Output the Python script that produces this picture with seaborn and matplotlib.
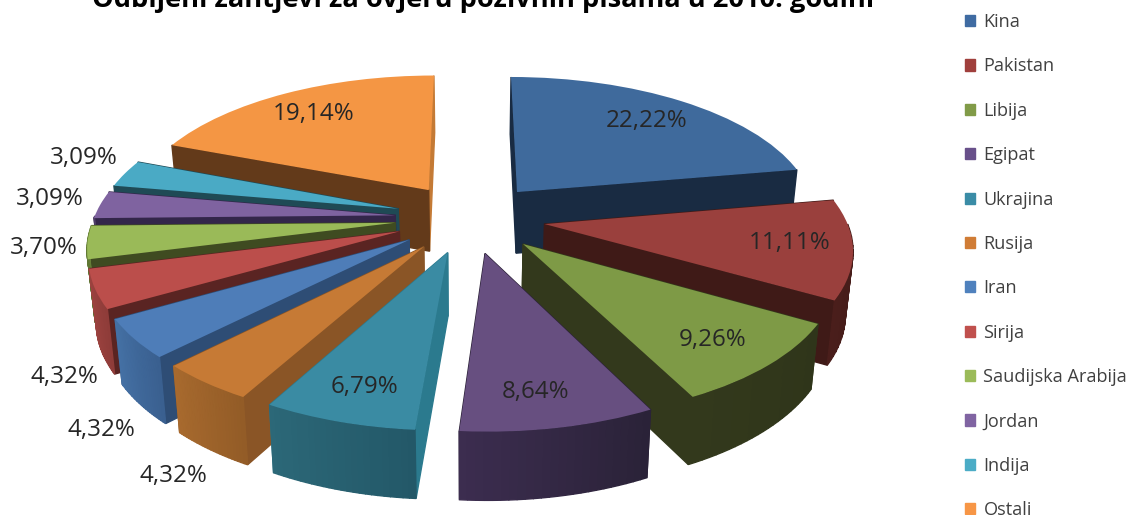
"""
Exploded 3D-look pie of refused visa-letter requests, drawn with ax.pie and a perspective transform.
"""
import numpy as np
import matplotlib
matplotlib.use('Agg')
import matplotlib.pyplot as plt
import matplotlib.colors as mcolors
import matplotlib.transforms as mtransforms
import seaborn as sns

TITLE = 'Odbijeni zahtjevi za ovjeru pozivnih pisama u 2010. godini'
COUNTRIES = ['Kina', 'Pakistan', 'Libija', 'Egipat', 'Ukrajina', 'Rusija',
             'Iran', 'Sirija', 'Saudijska Arabija', 'Jordan', 'Indija', 'Ostali']
SHARES = [22.22, 11.11, 9.26, 8.64, 6.79, 4.32, 4.32, 4.32, 3.70, 3.09, 3.09, 19.14]

TOP_COLORS = ['#3f6a9c', '#9a403d', '#7e9a46', '#674f80', '#3a8ba3', '#c67a35',
              '#4e7db8', '#bb4e4b', '#9aba58', '#7f63a0', '#4aaac5', '#f49644']
LEGEND_COLORS = ['#3f6ba2', '#a03f3c', '#819b48', '#68508a', '#3a8ca6', '#d07c35',
                 '#4f81bd', '#c0504d', '#9bbb59', '#8064a2', '#4bacc6', '#f79646']
RADIAL1_COLORS = ['#192b42', '#3f1a17', '#33391c', '#2d2339', '#2b7a8e', '#8a5526',
                  '#2e4d75', '#5a2422', '#3f4b21', '#33264a', '#1f4a55', '#c47a35']
RADIAL2_COLORS = ['#192b42', '#3f1a17', '#33391c', '#2d2339', '#2b7a8e', '#8a5526',
                  '#2e4d75', '#5a2422', '#3f4b21', '#33264a', '#1f4a55', '#633a1a']
ARC_LEFT = ['#22384f', '#4a1e1b', '#33391c', '#3c2d4f', '#2c6878', '#a86a2e',
            '#4571a5', '#a04441', '#6f8a3c', '#5a4676', '#347d90', '#b06d2e']
ARC_RIGHT = ['#192b42', '#3f1a17', '#2f351a', '#2a2238', '#235868', '#935c27',
             '#3a6090', '#8f3c39', '#5f7733', '#4d3c66', '#2c6c7e', '#9c5f28']

# label anchor (pixels) for each slice, same order as COUNTRIES
LABEL_X = [647, 790, 713, 536, 365, 173, 101, 64, 44, 50, 84, 314]
LABEL_Y = [121, 243, 340, 392, 387, 476, 430, 377, 248, 199, 158, 114]

W, H = 1130, 515
CX, CY = 470, 218
SCALE_X, SCALE_Y = 301, 139.5
DEPTH_K = 0.15
THICK = 62

sns.set_theme(style='white')
plt.rcParams['font.family'] = ['Open Sans', 'DejaVu Sans']


def project(x, y, z=0.0):
    """World pie coordinates to figure pixels; z=0 top face, z=1 underside."""
    w = 1 + DEPTH_K * y
    sx = CX + SCALE_X * x / w * (1 - 0.02 * z)
    sy = CY - SCALE_Y * y / w + THICK * z / np.sqrt(w)
    return sx, sy


class PieProjection(mtransforms.Transform):
    input_dims = 2
    output_dims = 2

    def transform_non_affine(self, values):
        sx, sy = project(values[:, 0], values[:, 1])
        return np.column_stack([sx, sy])


def wall(ax, xs, ys, color, zorder):
    """Side face hanging under the top-face polyline xs, ys."""
    tx, ty = project(xs, ys, 0.0)
    bx, by = project(xs, ys, 1.0)
    ax.fill(np.r_[tx, bx[::-1]], np.r_[ty, by[::-1]], color=color, lw=1.0, zorder=zorder)


def draw_slice(ax, wedge, i, base_z):
    """Side faces of one slice back to front, then its top face."""
    cx, cy = wedge.center
    t1, t2 = np.radians(wedge.theta1), np.radians(wedge.theta2)
    faces = []
    for t, col in ((t1, RADIAL1_COLORS[i]), (t2, RADIAL2_COLORS[i])):
        xs = np.array([cx, cx + np.cos(t)])
        ys = np.array([cy, cy + np.sin(t)])
        faces.append((ys.mean(), xs, ys, col))
    left = np.array(mcolors.to_rgb(ARC_LEFT[i]))
    right = np.array(mcolors.to_rgb(ARC_RIGHT[i]))
    edges = np.linspace(t1, t2, 25)
    for j in range(24):
        ts = np.linspace(edges[j], edges[j + 1], 3)
        # rim facing away from the viewer stays hidden
        if np.sin(ts.mean()) > 0:
            continue
        xs, ys = cx + np.cos(ts), cy + np.sin(ts)
        mix = (j + 0.5) / 24
        faces.append((ys.mean(), xs, ys, tuple(left + (right - left) * mix)))
    faces.sort(key=lambda f: -f[0])
    for k, (_, xs, ys, col) in enumerate(faces):
        wall(ax, xs, ys, col, base_z + k * 0.01)
    wedge.set_zorder(base_z + 0.9)


fig = plt.figure(figsize=(W / 100, H / 100), dpi=100)
ax = fig.add_axes([0, 0, 1, 1])

wedges, _ = ax.pie(SHARES, colors=TOP_COLORS, startangle=90, counterclock=False,
                   explode=[0.25] * len(SHARES), frame=False,
                   wedgeprops={'linewidth': 0})
ax.set_aspect('auto')
ax.set_xlim(0, W)
ax.set_ylim(H, 0)

proj = PieProjection() + ax.transData
# paint back slices first
depth_order = sorted(range(len(wedges)), key=lambda n: -wedges[n].center[1])
for rank, n in enumerate(depth_order):
    wedges[n].set_transform(proj)
    draw_slice(ax, wedges[n], n, 2 + rank)

for n, share in enumerate(SHARES):
    ax.text(LABEL_X[n], LABEL_Y[n], f'{share:.2f}%'.replace('.', ','), fontsize=17.4,
            color='#262626', ha='center', va='center', zorder=50)

ax.text(483, 0, TITLE, fontsize=19.6, fontweight='bold', color='black',
        ha='center', va='center', zorder=50)

handles = [plt.Rectangle((0, 0), 1, 1, color=c) for c in LEGEND_COLORS]
ax.legend(handles, COUNTRIES, loc='upper left', bbox_to_anchor=(965, 13),
          bbox_transform=ax.transData, frameon=False, fontsize=13.1, ncol=1,
          handlelength=0.57, handleheight=0.57, handletextpad=0.44, labelspacing=1.45,
          borderpad=0, borderaxespad=0, labelcolor='#404040')

plt.savefig('out.png', dpi=100)
plt.close()
